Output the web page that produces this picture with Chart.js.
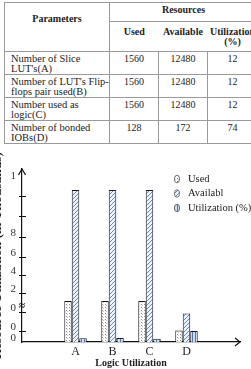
<!DOCTYPE html>
<html><head><meta charset="utf-8">
<script src="https://cdn.jsdelivr.net/npm/chart.js@4/dist/chart.umd.min.js"></script>
<style>
html,body{margin:0;padding:0;width:251px;height:369px;overflow:hidden;background:#fff;}
body{position:relative;font-family:"Liberation Serif",serif;color:#222;}
table{position:absolute;left:4px;top:2px;border-collapse:collapse;table-layout:fixed;width:253px;font-size:10px;line-height:10px;}
th,td{border:1px solid #9a9a9a;padding:0;vertical-align:top;}
th{font-weight:bold;text-align:center;}
tr.h1 th{height:16px;}
th.par{padding-top:11px;}
th.res{padding-top:2px;}
tr.h2 th{height:24px;border-left:none;border-right:none;padding-top:5px;}
tr.d td{height:19px;padding-top:2px;text-align:center;}
tr.d td.p{text-align:left;padding-left:6px;white-space:pre;font-size:10.5px;}
canvas{position:absolute;left:-7px;top:135px;}
</style></head>
<body>
<table id="tbl">
<colgroup><col style="width:105px"><col style="width:49px"><col style="width:49px"><col style="width:50px"></colgroup>
<tbody id="tb"></tbody>
</table>
<canvas id="c" width="258" height="234"></canvas>
<script>
// ---- table data ----
const tableHeaderMain = ['Parameters', 'Resources'];
const tableHeaderSub = ['Used', 'Available', 'Utilization\n(%)'];
const tableParameters = ["Number of Slice\nLUT's(A)", "Number of LUT's Flip-\nflops pair used(B)", "Number used as\nlogic(C)", "Number of bonded\nIOBs(D)"];
const tableUsed = [1560, 1560, 1560, 128];
const tableAvailable = [12480, 12480, 12480, 172];
const tableUtilization = [12, 12, 12, 74];

// ---- chart data (bar heights read on the drawn axis) ----
const categories = ['A', 'B', 'C', 'D'];
const seriesNames = ['Used', 'Availabl', 'Utilization (%)'];
const usedValues = [2.11, 2.11, 2.11, 0.59];
const availableValues = [7.84, 7.84, 7.84, 1.47];
const utilizationValues = [0.19, 0.2, 0.17, 0.57];
const yTickValues = [0, 0.57, 1.55, 2.53, 3.45, 4.38, 5.41, 6.49, 7.53, 8.35];
const yTickLabels = ['0', '0', '0', '2', '4', '6', '8', '', '', '1'];
const yTitle = 'Resource Utilization (in Thousands)';
const xTitle = 'Logic Utilization';

// build table
const tb = document.getElementById('tb');
let html = '<tr class="h1"><th rowspan="2" class="par">' + tableHeaderMain[0] + '</th><th colspan="3" class="res">' + tableHeaderMain[1] + '</th></tr>';
html += '<tr class="h2">' + tableHeaderSub.map(s => '<th>' + s.replace('\n', '<br>') + '</th>').join('') + '</tr>';
tableParameters.forEach((p, i) => {
  html += '<tr class="d"><td class="p">' + p + '</td><td>' + tableUsed[i] + '</td><td>' + tableAvailable[i] + '</td><td>' + tableUtilization[i] + '</td></tr>';
});
tb.innerHTML = html;

const canvas = document.getElementById('c');
const cctx = canvas.getContext('2d');
function makePattern(kind) {
  const t = document.createElement('canvas');
  const g = t.getContext('2d');
  if (kind === 'dots') {
    t.width = 3; t.height = 3;
    g.fillStyle = '#ffffff'; g.fillRect(0, 0, 3, 3);
    g.fillStyle = '#8a8a8a'; g.fillRect(1, 1, 1, 1);
    g.fillStyle = '#c8c8c8'; g.fillRect(2, 2, 1, 1);
  } else if (kind === 'diag') {
    t.width = 4; t.height = 4;
    g.fillStyle = '#eef3fa'; g.fillRect(0, 0, 4, 4);
    g.strokeStyle = '#6a8ab5'; g.lineWidth = 1;
    g.beginPath();
    g.moveTo(0, 4); g.lineTo(4, 0);
    g.moveTo(-1, 1); g.lineTo(1, -1);
    g.moveTo(3, 5); g.lineTo(5, 3);
    g.stroke();
  } else {
    t.width = 3; t.height = 1;
    g.fillStyle = '#d0def1'; g.fillRect(0, 0, 3, 1);
    g.fillStyle = '#4f76ab'; g.fillRect(1, 0, 1, 1);
  }
  return cctx.createPattern(t, 'repeat');
}
const patterns = [makePattern('dots'), makePattern('diag'), makePattern('vert')];
const seriesValues = [usedValues, availableValues, utilizationValues];

const decor = {
  id: 'decor',
  afterDraw(chart) {
    const {ctx, chartArea: a, scales: {y}} = chart;
    ctx.save();
    ctx.strokeStyle = '#111'; ctx.lineWidth = 1.2;
    ctx.beginPath();
    ctx.moveTo(a.left - 3.5, a.top + 6); ctx.lineTo(a.left, a.top); ctx.lineTo(a.left + 3.5, a.top + 6);
    ctx.stroke();
    ctx.beginPath();
    ctx.moveTo(a.right - 5, a.bottom - 4); ctx.lineTo(a.right, a.bottom); ctx.lineTo(a.right - 5, a.bottom + 4);
    ctx.stroke();
    ctx.lineWidth = 1;
    y.ticks.forEach((t, i) => {
      if (t.value <= 0 || i === y.ticks.length - 1) return;
      const py = Math.round(y.getPixelForValue(t.value)) + 0.5;
      ctx.beginPath(); ctx.moveTo(a.left - 3, py); ctx.lineTo(a.left + 4, py); ctx.stroke();
    });
    // axis break mark
    ctx.fillStyle = '#111';
    ctx.font = 'bold 11px "Liberation Serif"';
    ctx.textAlign = 'center'; ctx.textBaseline = 'middle';
    ctx.fillText('\u2248', a.left, y.getPixelForValue(yTickValues[2]) - 6);
    // legend
    ctx.font = '10.5px "Liberation Serif"';
    ctx.textAlign = 'left';
    chart.data.datasets.forEach((ds, i) => {
      const cy = 44 + i * 14.5;
      ctx.beginPath();
      ctx.ellipse(184, cy, 2.6, 3.8, 0, 0, Math.PI * 2);
      ctx.fillStyle = ds.backgroundColor; ctx.fill();
      ctx.strokeStyle = '#555'; ctx.lineWidth = 0.8; ctx.stroke();
      ctx.fillStyle = '#222';
      ctx.fillText(ds.label, 195, cy);
    });
    ctx.restore();
  }
};

new Chart(canvas, {
  type: 'bar',
  data: {
    datasets: seriesNames.map((name, s) => ({
      label: name,
      data: seriesValues[s].map((v, i) => ({x: i, y: v})),
      backgroundColor: patterns[s],
      borderColor: '#1a1a1a',
      borderWidth: 1,
      categoryPercentage: 0.608,
      barPercentage: 1
    }))
  },
  options: {
    responsive: false,
    animation: false,
    layout: {padding: {top: 34, right: 11, left: 0, bottom: 0}},
    plugins: {legend: {display: false}, tooltip: {enabled: false}},
    scales: {
      x: {
        type: 'linear', min: -0.71, max: 3.71,
        afterBuildTicks: s => { s.ticks = categories.map((c, i) => ({value: i})); },
        afterFit: s => { s.height = 27; },
        ticks: {callback: (v, i) => categories[i], color: '#222', padding: 3, font: {family: 'Liberation Serif', size: 12}, maxRotation: 0, autoSkip: false},
        grid: {display: false, drawTicks: false},
        border: {display: true, color: '#111', width: 1.2},
        title: {display: true, text: xTitle, color: '#222', padding: 0, font: {family: 'Liberation Serif', size: 10, weight: 'bold'}}
      },
      y: {
        min: 0, max: 8.92,
        afterBuildTicks: s => { s.ticks = yTickValues.map(v => ({value: v})); },
        afterFit: s => { s.width = 29; },
        ticks: {callback: (v, i) => yTickLabels[i], color: '#333', padding: 6, labelOffset: -4, font: {family: 'Liberation Serif', size: 11}, autoSkip: false},
        grid: {display: false, drawTicks: false},
        border: {display: true, color: '#111', width: 1.2},
        title: {display: true, text: yTitle, color: '#222', padding: 0, font: {family: 'Liberation Serif', size: 13.5, weight: 'bold', lineHeight: 0.7}}
      }
    }
  },
  plugins: [decor]
});
</script>
</body></html>
